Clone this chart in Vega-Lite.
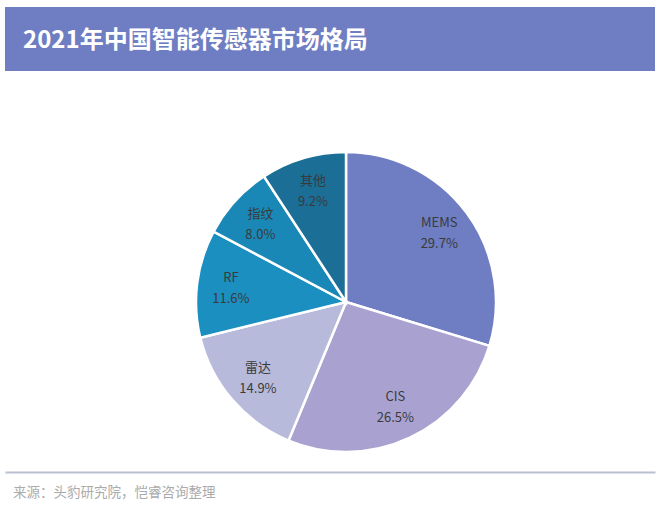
{
  "$schema": "https://vega.github.io/schema/vega-lite/v6.json",
  "padding": {"left": 5, "top": 7, "right": 5, "bottom": 5},
  "background": "white",
  "config": {"view": {"stroke": null}, "font": "Noto Sans CJK SC"},
  "title": {
    "text": "来源：头豹研究院，恺睿咨询整理",
    "orient": "bottom",
    "anchor": "start",
    "frame": "bounds",
    "baseline": "top",
    "offset": 14,
    "dx": 8,
    "fontSize": 13.5,
    "fontWeight": "normal",
    "color": "#ababab",
    "font": "Noto Sans CJK SC"
  },
  "spacing": 61,
  "vconcat": [
    {
      "width": 650,
      "height": 64,
      "view": {"fill": "#6f7ec2", "stroke": null},
      "data": {"values": [{"heading": "2021年中国智能传感器市场格局"}]},
      "mark": {"type": "text", "align": "left", "baseline": "middle", "dx": 18, "dy": 2, "fontSize": 24, "fontWeight": "bold", "color": "white", "font": "Noto Sans CJK SC"},
      "encoding": {
        "x": {"datum": 0, "type": "quantitative", "scale": {"domain": [0, 1]}, "axis": null},
        "text": {"field": "heading"}
      }
    },
    {
      "width": 650,
      "height": 340,
      "data": {
        "values": [
          {"category": "MEMS", "share": 0.297, "ord": 1},
          {"category": "CIS", "share": 0.265, "ord": 2},
          {"category": "雷达", "share": 0.149, "ord": 3},
          {"category": "RF", "share": 0.116, "ord": 4},
          {"category": "指纹", "share": 0.080, "ord": 5},
          {"category": "其他", "share": 0.092, "ord": 6}
        ]
      },
      "encoding": {
        "theta": {"field": "share", "type": "quantitative", "stack": true},
        "order": {"field": "ord", "type": "quantitative"},
        "detail": {"field": "category"}
      },
      "layer": [
        {
          "mark": {"type": "arc", "outerRadius": 150, "stroke": "white", "strokeWidth": 2.5, "xOffset": 16},
          "encoding": {
            "color": {
              "field": "category",
              "type": "nominal",
              "scale": {
                "domain": ["MEMS", "CIS", "雷达", "RF", "指纹", "其他"],
                "range": ["#6f7dc2", "#a9a2d0", "#b8badb", "#1a8fc0", "#1a88b6", "#1b6f96"]
              },
              "legend": null
            }
          }
        },
        {
          "mark": {"type": "text", "radius": 116, "dy": -10, "xOffset": 16, "fontSize": 13, "color": "#3a3a3a", "font": "Noto Sans CJK SC"},
          "encoding": {"text": {"field": "category"}}
        },
        {
          "mark": {"type": "text", "radius": 116, "dy": 11, "xOffset": 16, "fontSize": 13, "color": "#3a3a3a", "font": "Noto Sans CJK SC"},
          "encoding": {"text": {"field": "share", "type": "quantitative", "format": ".1%"}}
        },
        {
          "mark": {"type": "rule", "opacity": 0},
          "encoding": {
            "theta": null,
            "order": null,
            "detail": null,
            "x": {
              "datum": 0,
              "type": "quantitative",
              "scale": {"domain": [0, 1]},
              "axis": {"domain": true, "domainColor": "#b9c0cf", "domainWidth": 2, "ticks": false, "labels": false, "grid": false, "title": null}
            }
          }
        }
      ]
    }
  ]
}
